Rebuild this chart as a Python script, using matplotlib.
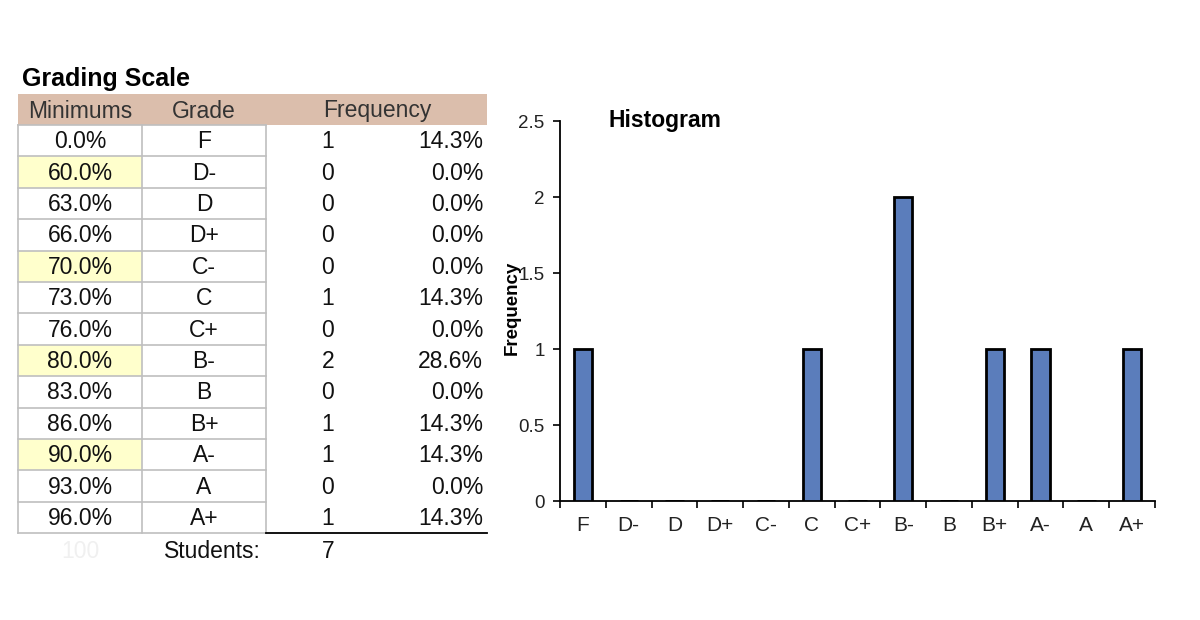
import matplotlib
matplotlib.use("Agg")
import matplotlib.pyplot as plt
from matplotlib.patches import Rectangle

plt.rcParams['font.family'] = ['Liberation Sans', 'DejaVu Sans']

# ---- data ----
minimums = ["0.0%", "60.0%", "63.0%", "66.0%", "70.0%", "73.0%", "76.0%",
            "80.0%", "83.0%", "86.0%", "90.0%", "93.0%", "96.0%"]
grades = ["F", "D-", "D", "D+", "C-", "C", "C+", "B-", "B", "B+", "A-", "A", "A+"]
counts = [1, 0, 0, 0, 0, 1, 0, 2, 0, 1, 1, 0, 1]
percents = ["14.3%", "0.0%", "0.0%", "0.0%", "0.0%", "14.3%", "0.0%",
            "28.6%", "0.0%", "14.3%", "14.3%", "0.0%", "14.3%"]
highlight = [False, True, False, False, True, False, False, True, False, False, True, False, False]
total_students = 7
y_ticks = [0, 0.5, 1, 1.5, 2, 2.5]
y_ticklabels = ["0", "0.5", "1", "1.5", "2", "2.5"]

fig = plt.figure(figsize=(12, 6.2), dpi=100)

# ---- table (pixel coordinates) ----
tax = fig.add_axes([0, 0, 1, 1])
tax.set_xlim(0, 1200)
tax.set_ylim(620, 0)
tax.axis('off')

fs = 16.5
tcol = '#111111'
tax.text(22, 79, "Grading Scale", fontsize=18, fontweight='bold', ha='left', va='center')
tax.add_patch(Rectangle((18, 94), 469, 31, facecolor='#dbbeac', edgecolor='none'))
tax.text(80, 111, "Minimums", fontsize=fs, color='#333333', ha='center', va='center')
tax.text(204, 111, "Grade", fontsize=fs, color='#333333', ha='center', va='center')
tax.text(377, 111, "Frequency", fontsize=fs, color='#333333', ha='center', va='center')

top = 125
rh = 31.4
n = len(grades)
grid_c = '#bfbfbf'
for i in range(n):
    y0 = top + i * rh
    yc = y0 + rh / 2 + 1
    if highlight[i]:
        tax.add_patch(Rectangle((18, y0), 124, rh, facecolor='#ffffcc', edgecolor='none'))
    tax.plot([18, 266], [y0, y0], color=grid_c, lw=1.2)
    tax.text(80, yc, minimums[i], fontsize=fs, color=tcol, ha='center', va='center')
    tax.text(204, yc, grades[i], fontsize=fs, color=tcol, ha='center', va='center')
    tax.text(328, yc, str(counts[i]), fontsize=fs, color=tcol, ha='center', va='center')
    tax.text(483, yc, percents[i], fontsize=fs, color=tcol, ha='right', va='center')
bottom = top + n * rh
tax.plot([18, 266], [bottom, bottom], color=grid_c, lw=1.2)
for xv in (18, 142, 266):
    tax.plot([xv, xv], [top, bottom], color=grid_c, lw=1.2)
tax.plot([266, 487], [bottom, bottom], color='black', lw=1.3)
tax.text(80, bottom + 18, "100", fontsize=fs, color='#f0f0f0', ha='center', va='center')
tax.text(212, bottom + 18, "Students:", fontsize=fs, color=tcol, ha='center', va='center')
tax.text(328, bottom + 18, str(total_students), fontsize=fs, color=tcol, ha='center', va='center')

# ---- histogram ----
ax = fig.add_axes([560 / 1200, (620 - 501) / 620, 595 / 1200, 380 / 620])
x = list(range(n))
ax.bar(x, counts, width=0.4, color='#5b7dbb', edgecolor='black', linewidth=2, zorder=3)
ax.set_xlim(-0.5, n - 0.5)
ax.set_ylim(0, 2.5)
ax.set_yticks(y_ticks)
ax.set_yticklabels(y_ticklabels, fontsize=13.5, color='#222222')
ax.set_xticks(x)
ax.set_xticklabels(grades, fontsize=15, color='#222222')
ax.set_xticks([i - 0.5 for i in range(n + 1)], minor=True)
ax.tick_params(axis='x', which='major', length=0, pad=11)
ax.tick_params(axis='x', which='minor', length=5, width=1.2, direction='out')
ax.tick_params(axis='y', length=5, width=1.2, direction='out', pad=6)
for s in ('top', 'right'):
    ax.spines[s].set_visible(False)
for s in ('left', 'bottom'):
    ax.spines[s].set_linewidth(1.3)
ax.text(48 / 595, 1.0, "Histogram", transform=ax.transAxes, fontsize=16.5,
        fontweight='bold', ha='left', va='center')
fig.text(512 / 1200, 1 - 308 / 620, "Frequency", rotation=90, fontsize=13.5,
         fontweight='bold', ha='center', va='center')

fig.savefig("out.png", dpi=100)
